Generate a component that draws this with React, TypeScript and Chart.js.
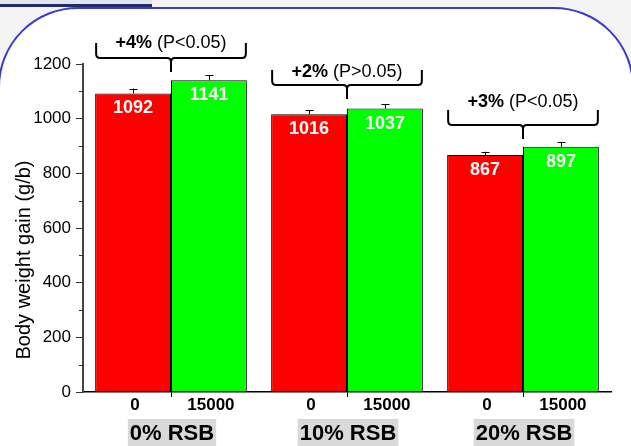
import React, { useEffect, useRef } from 'react';
import { Chart, registerables } from 'chart.js';

Chart.register(...registerables);

// ---- data ----
const categories = ['0% RSB', '10% RSB', '20% RSB'];
const doseLabels = ['0', '15000'];
const control = [1092, 1016, 867];
const treated = [1141, 1037, 897];
const controlErr = [18, 16, 12];
const treatedErr = [19, 15, 18];
const changeLabels = ['+4%', '+2%', '+3%'];
const pLabels = ['(P<0.05)', '(P>0.05)', '(P<0.05)'];
const bracketY = [1222, 1123, 977];
const bracketTextY = [1277, 1171, 1061];
const yMinorTicks = [100, 300, 500, 700, 900, 1100];
const yTitle = 'Body weight gain (g/b)';

const FONT = '"Liberation Sans", Arial, Helvetica, sans-serif';

const annotate = {
  id: 'annotate',
  afterDraw(chart: any) {
    const ctx = chart.ctx as CanvasRenderingContext2D;
    const y = chart.scales.y;
    const area = chart.chartArea;
    const m0 = chart.getDatasetMeta(0);
    const m1 = chart.getDatasetMeta(1);
    ctx.save();

    // minor y ticks
    ctx.strokeStyle = '#333';
    ctx.lineWidth = 1;
    ctx.beginPath();
    yMinorTicks.forEach((v) => {
      const py = Math.round(y.getPixelForValue(v)) + 0.5;
      ctx.moveTo(area.left - 4, py);
      ctx.lineTo(area.left, py);
    });
    ctx.stroke();

    // error bars + value labels
    const sets: [any, number[], number[]][] = [
      [m0, control, controlErr],
      [m1, treated, treatedErr],
    ];
    sets.forEach(([meta, vals, errs]) => {
      meta.data.forEach((bar: any, i: number) => {
        const top = y.getPixelForValue(vals[i]);
        const cap = y.getPixelForValue(vals[i] + errs[i]);
        const bx = Math.round(bar.x) + 0.5;
        ctx.strokeStyle = '#000';
        ctx.lineWidth = 1;
        ctx.beginPath();
        ctx.moveTo(bx, top);
        ctx.lineTo(bx, cap);
        ctx.moveTo(bx - 4, Math.round(cap) + 0.5);
        ctx.lineTo(bx + 4, Math.round(cap) + 0.5);
        ctx.stroke();
        ctx.fillStyle = '#fff';
        ctx.font = `bold 18px ${FONT}`;
        ctx.textAlign = 'center';
        ctx.textBaseline = 'middle';
        ctx.fillText(String(vals[i]), bar.x, top + 15);
      });
    });

    // brackets
    categories.forEach((_, i) => {
      const b0 = m0.data[i];
      const b1 = m1.data[i];
      const x1 = b0.x - b0.width / 2 + 1;
      const x2 = b1.x + b1.width / 2 - 1;
      const xc = b0.x + b0.width / 2;
      const yH = y.getPixelForValue(bracketY[i]);
      const armTop = yH - 15;
      const tip = yH + 14;
      const r = 4;
      ctx.strokeStyle = '#000';
      ctx.lineWidth = 2;
      ctx.beginPath();
      ctx.moveTo(x1, armTop);
      ctx.lineTo(x1, yH - r);
      ctx.quadraticCurveTo(x1, yH, x1 + r, yH);
      ctx.lineTo(xc - r, yH);
      ctx.quadraticCurveTo(xc, yH, xc, yH + r);
      ctx.lineTo(xc, tip);
      ctx.moveTo(x2, armTop);
      ctx.lineTo(x2, yH - r);
      ctx.quadraticCurveTo(x2, yH, x2 - r, yH);
      ctx.lineTo(xc + r, yH);
      ctx.quadraticCurveTo(xc, yH, xc, yH + r);
      ctx.stroke();

      // bracket text
      const ty = y.getPixelForValue(bracketTextY[i]);
      ctx.fillStyle = '#000';
      ctx.textBaseline = 'middle';
      ctx.textAlign = 'left';
      ctx.font = `bold 18px ${FONT}`;
      const w1 = ctx.measureText(changeLabels[i]).width;
      ctx.font = `18px ${FONT}`;
      const rest = ' ' + pLabels[i];
      const w2 = ctx.measureText(rest).width;
      const sx = xc - (w1 + w2) / 2;
      ctx.font = `bold 18px ${FONT}`;
      ctx.fillText(changeLabels[i], sx, ty);
      ctx.font = `18px ${FONT}`;
      ctx.fillText(rest, sx + w1, ty);
    });

    // x sub labels
    ctx.fillStyle = '#000';
    ctx.textAlign = 'center';
    ctx.textBaseline = 'middle';
    ctx.font = `bold 17px ${FONT}`;
    [m0, m1].forEach((meta, k) => {
      meta.data.forEach((bar: any) => {
        ctx.fillText(doseLabels[k], bar.x + 2, area.bottom + 13);
      });
    });

    // group labels with grey box
    ctx.font = `bold 22px ${FONT}`;
    categories.forEach((c, i) => {
      const cx = m0.data[i].x + m0.data[i].width / 2 + 1;
      const w = ctx.measureText(c).width;
      ctx.fillStyle = '#d9d9d9';
      ctx.fillRect(cx - w / 2 - 2, area.bottom + 27, w + 4, 27);
      ctx.fillStyle = '#000';
      ctx.fillText(c, cx, area.bottom + 42);
    });

    // y title
    ctx.save();
    ctx.translate(24, (area.top + area.bottom) / 2 + 32);
    ctx.rotate(-Math.PI / 2);
    ctx.font = `20px ${FONT}`;
    ctx.fillStyle = '#000';
    ctx.textAlign = 'center';
    ctx.textBaseline = 'middle';
    ctx.fillText(yTitle, 0, 0);
    ctx.restore();

    ctx.restore();
  },
};

export default function App() {
  const ref = useRef<HTMLCanvasElement | null>(null);

  useEffect(() => {
    if (!ref.current) return;
    const chart = new Chart(ref.current, {
      type: 'bar',
      data: {
        labels: categories,
        datasets: [
          {
            label: doseLabels[0],
            data: control,
            backgroundColor: '#ff0000',
            borderColor: '#000',
            borderWidth: 1,
            categoryPercentage: 0.862,
            barPercentage: 1,
          },
          {
            label: doseLabels[1],
            data: treated,
            backgroundColor: '#00ff00',
            borderColor: '#000',
            borderWidth: 1,
            categoryPercentage: 0.862,
            barPercentage: 1,
          },
        ],
      },
      options: {
        responsive: false,
        animation: false,
        devicePixelRatio: 1,
        layout: { padding: { top: 64, right: 20, left: 0, bottom: 0 } },
        plugins: {
          legend: { display: false },
          tooltip: { enabled: false },
        },
        scales: {
          x: {
            offset: true,
            grid: {
              display: true,
              offset: false,
              drawOnChartArea: false,
              drawTicks: true,
              tickLength: 5,
              color: '#000',
            },
            border: { display: true, color: '#000', width: 1.5 },
            ticks: { display: false },
            afterFit: (s: any) => {
              s.height = 54;
            },
          },
          y: {
            min: 0,
            max: 1200,
            grid: {
              display: true,
              drawOnChartArea: false,
              drawTicks: true,
              tickLength: 7,
              color: '#333',
            },
            border: { display: true, color: '#444', width: 2 },
            ticks: {
              stepSize: 200,
              padding: 5,
              color: '#000',
              font: { family: FONT, size: 17 },
              callback: (v: any) => String(v),
            },
            afterFit: (s: any) => {
              s.width = 83;
            },
          },
        },
      },
      plugins: [annotate],
    });
    return () => chart.destroy();
  }, []);

  return (
    <div
      style={{
        position: 'fixed',
        left: 0,
        top: 0,
        width: 631,
        height: 446,
        overflow: 'hidden',
        background: '#f4f4f4',
      }}
    >
      <div
        style={{
          position: 'absolute',
          left: 0,
          top: 0,
          width: 152,
          height: 4,
          background: '#e3e5ee',
        }}
      />
      <div
        style={{
          position: 'absolute',
          left: 0,
          top: 4,
          width: 152,
          height: 3,
          background: '#1f2d6b',
        }}
      />
      <div
        style={{
          position: 'absolute',
          left: -2,
          top: 7,
          width: 632,
          height: 520,
          border: '2px solid #3a3acf',
          borderRadius: 80,
          background: '#ffffff',
        }}
      />
      <canvas
        ref={ref}
        width={631}
        height={446}
        style={{ position: 'absolute', left: 0, top: 0, display: 'block' }}
      />
    </div>
  );
}
